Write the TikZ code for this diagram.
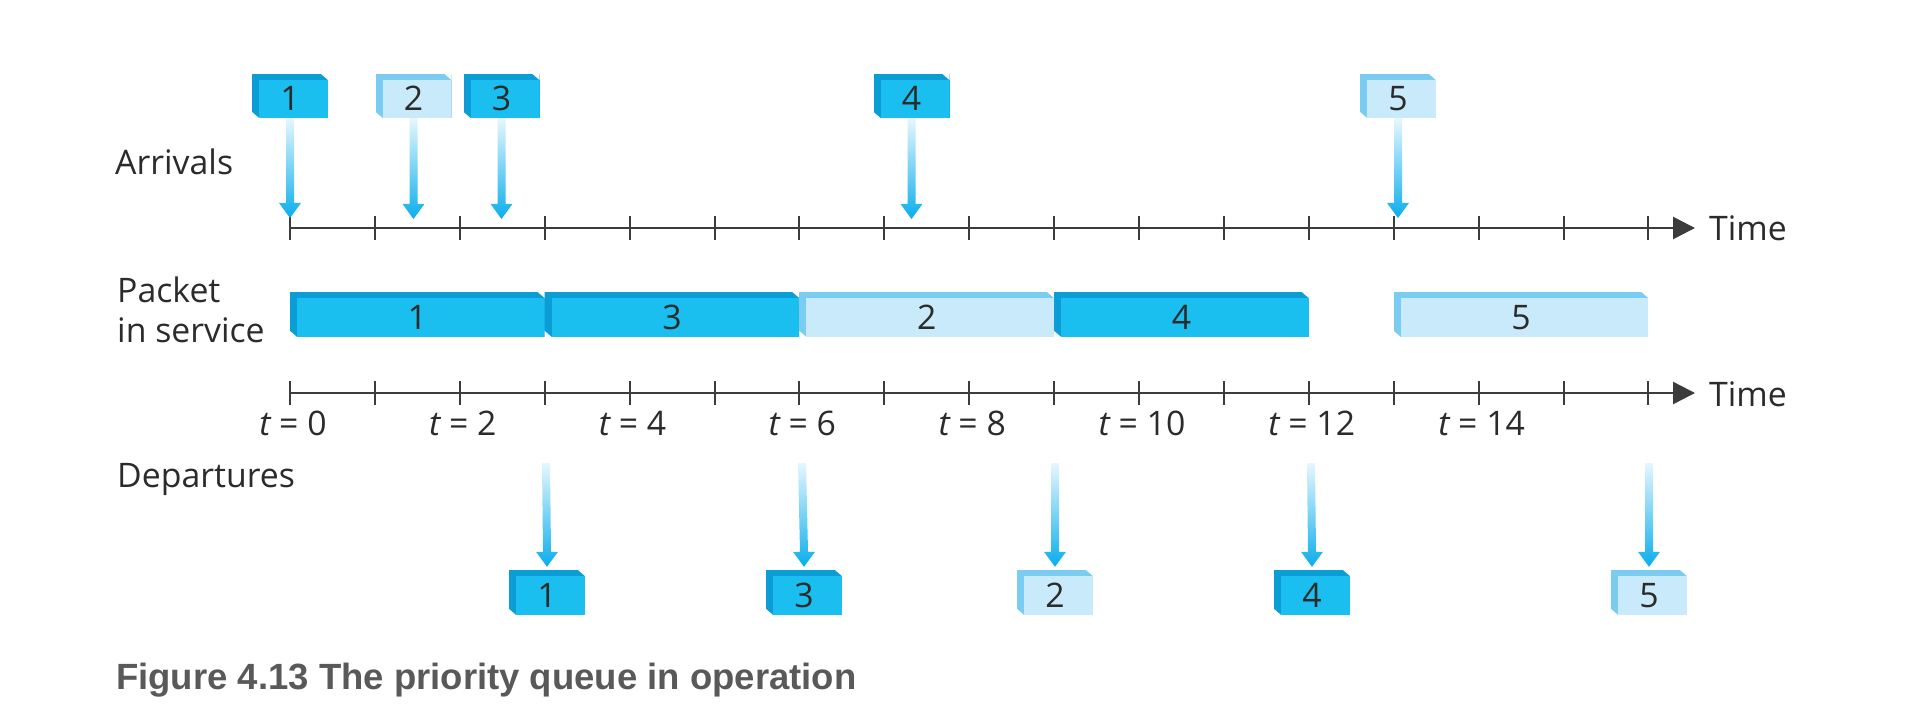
\documentclass[tikz,border=0pt]{standalone}
\usepackage{fontspec}
\usetikzlibrary{calc,arrows.meta}
\newfontfamily\figfont{Open Sans}
\newfontfamily\capfont{Liberation Sans}
\definecolor{darkfront}{HTML}{1BBFEF}
\definecolor{darkside}{HTML}{0B9DD6}
\definecolor{lightfront}{HTML}{C8EAFA}
\definecolor{lightside}{HTML}{7ACDF0}
\definecolor{arrcol}{HTML}{0AAEEC}
\definecolor{axiscol}{HTML}{3C3C3C}
\definecolor{txtcol}{HTML}{2B2B2B}
\definecolor{capcol}{HTML}{595959}
\def\ustep{84.9}
\newcommand\figsize{\fontsize{33.8}{40}\selectfont}
\newcommand\pktarrow[2]{%
  \shade[arrowfill] ($(#1)+(-4,0)$) -- ($(#2)+(-4,-15)$) -- ($(#2)+(-11,-15)$) -- (#2)
    -- ($(#2)+(11,-15)$) -- ($(#2)+(4,-15)$) -- ($(#1)+(4,0)$) -- cycle;}
\tikzset{
  pkt/.style 2 args={shape=rectangle, fill=#2, draw=none, inner sep=0pt,
    text=txtcol, font=\figfont\figsize, text height=30pt, text depth=0pt,
    minimum height=44pt,
    path picture={
      \fill[#1] ([xshift=7pt,yshift=-6pt]path picture bounding box.north west)
        rectangle (path picture bounding box.south east);
      \fill[white] (path picture bounding box.north east) -- ++(-7pt,0pt) -- ++(7pt,-6pt) -- cycle;
      \fill[white] (path picture bounding box.south west) -- ++(7pt,0pt) -- ++(-7pt,6pt) -- cycle;
    }},
  darkpkt/.style={pkt={darkfront}{darkside}},
  lightpkt/.style={pkt={lightfront}{lightside}},
  smallbox/.style={minimum width=76pt},
  arrowfill/.style={top color=arrcol!10, middle color=arrcol!75, bottom color=arrcol},
  axisline/.style={draw=axiscol, line width=2.4pt},
  tickline/.style={draw=axiscol, line width=2pt},
  lbl/.style={text=txtcol, font=\figfont\figsize, inner sep=0pt},
}
\begin{document}
\begin{tikzpicture}[x=1pt,y=-1pt]
\useasboundingbox (0,0) rectangle (1910,719);

% left labels
\node[lbl, anchor=base west] (larr) at (115,175) {Arrivals};
\node[lbl, anchor=base west] (lpack) at (117,302) {Packet};
\node[lbl, anchor=base west] (lserv) at (117,342) {in service};
\node[lbl, anchor=base west] (ldep) at (117,487) {Departures};

% axis 1
\coordinate (ax1s) at (290,228);
\coordinate (ax1e) at (1695,228);
\draw[axisline, -{Triangle[length=22pt,width=22pt]}] (ax1s) -- (ax1e);
\foreach \i in {0,...,16} \draw[tickline] ({290+\i*\ustep},216) -- ({290+\i*\ustep},240);
\node[lbl, anchor=base west] (time1) at (1709,241) {Time};

% axis 2
\coordinate (ax2s) at (290,393);
\coordinate (ax2e) at (1695,393);
\draw[axisline, -{Triangle[length=22pt,width=22pt]}] (ax2s) -- (ax2e);
\foreach \i in {0,...,16} \draw[tickline] ({290+\i*\ustep},381) -- ({290+\i*\ustep},405);
\node[lbl, anchor=base west] (time2) at (1709,406) {Time};
\foreach \k in {0,2,...,14}
  \node[lbl, anchor=base] (tl\k) at ({293+\k*\ustep},435) {{\itshape t} = \k};

% arrivals
\node[darkpkt, smallbox] (a1) at (290,96) {1};
\node[lightpkt, smallbox] (a2) at (413.5,96) {2};
\node[darkpkt, smallbox] (a3) at (501.5,96) {3};
\node[darkpkt, smallbox] (a4) at (911.5,96) {4};
\node[lightpkt, smallbox] (a5) at (1398,96) {5};
\coordinate (ta1) at (290,218);
\coordinate (ta2) at (413.5,219);
\coordinate (ta3) at (501.5,219);
\coordinate (ta4) at (911.5,219);
\coordinate (ta5) at (1398,218);
\foreach \n in {1,...,5} \pktarrow{a\n.south}{ta\n};

% packets in service
\node[darkpkt, minimum width=254.7pt, minimum height=45pt] (s1) at ({290+1.5*\ustep},314.5) {1};
\node[darkpkt, minimum width=254.7pt, minimum height=45pt] (s3) at ({290+4.5*\ustep},314.5) {3};
\node[lightpkt, minimum width=254.7pt, minimum height=45pt] (s2) at ({290+7.5*\ustep},314.5) {2};
\node[darkpkt, minimum width=254.7pt, minimum height=45pt] (s4) at ({290+10.5*\ustep},314.5) {4};
\node[lightpkt, minimum width=254.7pt, minimum height=45pt] (s5) at ({290+14.5*\ustep},314.5) {5};

% departures
\node[darkpkt, smallbox, minimum height=45pt] (d1) at (547,592.5) {1};
\node[darkpkt, smallbox, minimum height=45pt] (d3) at (804,592.5) {3};
\node[lightpkt, smallbox, minimum height=45pt] (d2) at (1055,592.5) {2};
\node[darkpkt, smallbox, minimum height=45pt] (d4) at (1312,592.5) {4};
\node[lightpkt, smallbox, minimum height=45pt] (d5) at (1649,592.5) {5};
\coordinate (sd1) at (546,463);
\coordinate (sd3) at (802,463);
\coordinate (sd2) at (1055,463);
\coordinate (sd4) at (1311,463);
\coordinate (sd5) at (1649,463);
\foreach \n in {1,...,5} \pktarrow{sd\n}{[yshift=3pt]d\n.north};

% caption
\node[anchor=base west, inner sep=0pt, text=capcol, font=\capfont\bfseries\fontsize{36.5}{40}\selectfont] (cap) at (116,689) {Figure 4.13 The priority queue in operation};
\end{tikzpicture}
\end{document}
